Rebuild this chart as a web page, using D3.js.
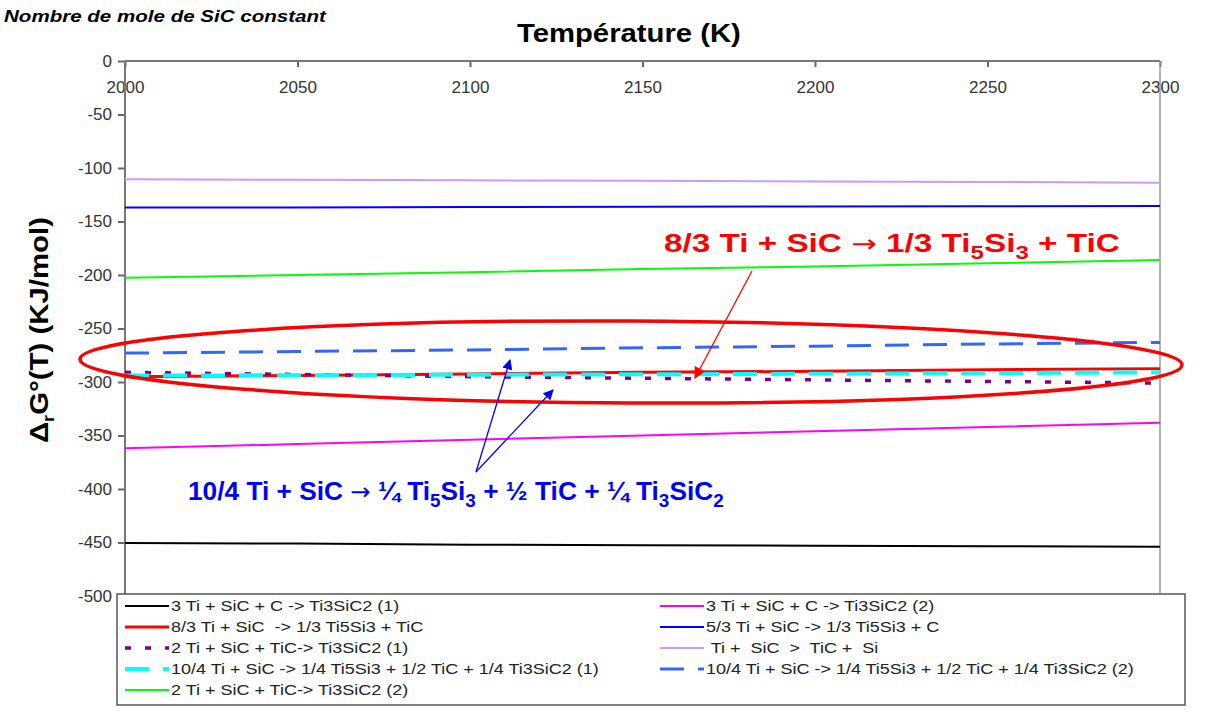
<!DOCTYPE html>
<html>
<head>
<meta charset="utf-8">
<script src="https://cdn.jsdelivr.net/npm/d3@7"></script>
<style>
  body { margin: 0; background: #fff; }
  text { font-family: "Liberation Sans", Arial, sans-serif; }
</style>
</head>
<body>
<div id="chart"></div>
<script>
// temperatures (K)
const temps = [2000, 2050, 2100, 2150, 2200, 2250, 2300];

// ΔrG°(T) in kJ/mol
const s_ti3sic2_1 = [-450.5, -451, -452, -452.5, -453, -453.5, -454];
const s_ti3sic2_2 = [-362, -358, -354, -350, -346, -342, -338];
const s_ti5si3_tic = [-295, -294, -292.5, -291, -290, -288.5, -287.5];
const s_ti5si3_c = [-137, -136.8, -136.5, -136.2, -136, -135.8, -135.5];
const s_tic_1 = [-291, -293, -295, -296.5, -298, -299.5, -301];
const s_tic_si = [-110.5, -111, -111.5, -112, -112.5, -113, -113.7];
const s_mix_1 = [-294, -293.7, -293.2, -292.8, -292.3, -291.7, -291];
const s_mix_2 = [-273, -271.5, -270, -268, -266.5, -264.5, -263];
const s_tic_2 = [-202.5, -200, -197.5, -194.5, -192, -189, -186];

const xTicks = [2000, 2050, 2100, 2150, 2200, 2250, 2300];
const yTicks = [0, -50, -100, -150, -200, -250, -300, -350, -400, -450, -500];

const series = [
  {name: "3 Ti + SiC + C -> Ti3SiC2 (1)", vals: s_ti3sic2_1, col: "#000000", w: 2, dash: null, leg: [0, 0]},
  {name: "3 Ti + SiC + C -> Ti3SiC2 (2)", vals: s_ti3sic2_2, col: "#ff00ff", w: 2, dash: null, leg: [1, 0]},
  {name: "8/3 Ti + SiC  -> 1/3 Ti5Si3 + TiC", vals: s_ti5si3_tic, col: "#ff0000", w: 3, dash: null, leg: [0, 1]},
  {name: "5/3 Ti + SiC -> 1/3 Ti5Si3 + C", vals: s_ti5si3_c, col: "#0000ff", w: 2, dash: null, leg: [1, 1]},
  {name: "2 Ti + SiC + TiC-> Ti3SiC2 (1)", vals: s_tic_1, col: "#800080", w: 3.5, dash: "6,14", leg: [0, 2]},
  {name: " Ti +  SiC  >  TiC +  Si", vals: s_tic_si, col: "#cc99ff", w: 2, dash: null, leg: [1, 2]},
  {name: "10/4 Ti + SiC -> 1/4 Ti5Si3 + 1/2 TiC + 1/4 Ti3SiC2 (1)", vals: s_mix_1, col: "#00ffff", w: 4, dash: "24,14", leg: [0, 3]},
  {name: "10/4 Ti + SiC -> 1/4 Ti5Si3 + 1/2 TiC + 1/4 Ti3SiC2 (2)", vals: s_mix_2, col: "#3366ff", w: 3, dash: "24,14", leg: [1, 3]},
  {name: "2 Ti + SiC + TiC-> Ti3SiC2 (2)", vals: s_tic_2, col: "#00ff00", w: 2, dash: null, leg: [0, 4]}
];

const width = 1208, height = 716;
const x = d3.scaleLinear().domain([2000, 2300]).range([125, 1160]);
const y = d3.scaleLinear().domain([-500, 0]).range([596, 61]);

const svg = d3.select("#chart").append("svg")
  .attr("width", width).attr("height", height);

// stretch a text horizontally so it fills a given width
const fitText = (t, x0, y0, w, anchor, rot) => {
  const bw = t.node().getBBox().width;
  const k = w / bw;
  const off = anchor === "middle" ? -w / 2 : 0;
  t.attr("transform", `translate(${x0},${y0}) rotate(${rot || 0}) translate(${off},0) scale(${k},1)`);
};

// title bits
const t1 = svg.append("text").attr("font-size", 16).attr("font-weight", "bold").attr("font-style", "italic")
  .text("Nombre de mole de SiC constant");
fitText(t1, 4, 22, 323);

const t2 = svg.append("text").attr("font-size", 26).attr("font-weight", "bold")
  .text("Température (K)");
fitText(t2, 629, 42, 224, "middle");

const yt = svg.append("text").attr("font-size", 26).attr("font-weight", "bold");
yt.append("tspan").text("Δ");
yt.append("tspan").attr("font-size", 16).attr("dy", 6).text("r");
yt.append("tspan").attr("dy", -6).text("G°(T) (KJ/mol)");
fitText(yt, 48, 330, 226, "middle", -90);

// axes
const fmt = d => String(d);
const xAxis = d3.axisBottom(x).tickValues(xTicks).tickSize(6).tickPadding(14).tickFormat(fmt);
const gx = svg.append("g").attr("transform", "translate(0,61)").call(xAxis);
gx.select(".domain").remove();
gx.selectAll(".tick line").attr("stroke", "#666").attr("stroke-width", 2);
gx.selectAll(".tick text").attr("font-size", 17).attr("fill", "#333")
  .attr("font-family", "Liberation Sans, Arial, sans-serif");

const yAxis = d3.axisLeft(y).tickValues(yTicks).tickSize(7).tickPadding(6).tickFormat(fmt);
const gy = svg.append("g").attr("transform", "translate(125,0)").call(yAxis);
gy.select(".domain").remove();
gy.selectAll(".tick line").attr("stroke", "#666").attr("stroke-width", 2);
gy.selectAll(".tick text").attr("font-size", 17).attr("fill", "#333")
  .attr("font-family", "Liberation Sans, Arial, sans-serif");

// frame lines
svg.append("line").attr("x1", x(2000)).attr("x2", x(2300)).attr("y1", y(0)).attr("y2", y(0))
  .attr("stroke", "#777").attr("stroke-width", 2);
svg.append("line").attr("x1", x(2000)).attr("x2", x(2000)).attr("y1", y(0)).attr("y2", y(-500))
  .attr("stroke", "#777").attr("stroke-width", 2);
svg.append("line").attr("x1", x(2300)).attr("x2", x(2300)).attr("y1", y(0)).attr("y2", y(-500))
  .attr("stroke", "#999").attr("stroke-width", 1.5);

// series
const line = d3.line().x((d, i) => x(temps[i])).y(d => y(d));
const g_lines = svg.append("g");
series.forEach(s => {
  g_lines.append("path").attr("d", line(s.vals))
    .attr("fill", "none").attr("stroke", s.col).attr("stroke-width", s.w)
    .attr("stroke-dasharray", s.dash);
});

// annotations
const defs = svg.append("defs");
const mk = (id, col, size) => defs.append("marker").attr("id", id)
  .attr("viewBox", "0 0 10 10").attr("refX", 9).attr("refY", 5)
  .attr("markerWidth", size).attr("markerHeight", size).attr("orient", "auto")
  .append("path").attr("d", "M0,0L10,5L0,10Z").attr("fill", col);
mk("arr-red", "#ff0000", 9);
mk("arr-blue", "#0000ff", 8);

svg.append("ellipse").attr("cx", 631).attr("cy", 362).attr("rx", 551).attr("ry", 41)
  .attr("transform", "rotate(0.3,631,362)")
  .attr("fill", "none").attr("stroke", "#ff0000").attr("stroke-width", 3.5);

svg.append("line").attr("x1", 752).attr("y1", 271).attr("x2", 695).attr("y2", 378)
  .attr("stroke", "#ff0000").attr("stroke-width", 1.3).attr("marker-end", "url(#arr-red)");
svg.append("line").attr("x1", 476).attr("y1", 472).attr("x2", 510).attr("y2", 360)
  .attr("stroke", "#0000ff").attr("stroke-width", 1.3).attr("marker-end", "url(#arr-blue)");
svg.append("line").attr("x1", 476).attr("y1", 472).attr("x2", 553).attr("y2", 390)
  .attr("stroke", "#0000ff").attr("stroke-width", 1.3).attr("marker-end", "url(#arr-blue)");

// text with subscripts: parts = [[str, isSub], ...]
const sub = (t, parts, fs) => {
  let down = false;
  parts.forEach(p => {
    const ts = t.append("tspan").text(p[0]);
    if (p[1]) {
      ts.attr("font-size", fs * 0.72);
      if (!down) { ts.attr("dy", 7); down = true; }
    } else if (down) {
      ts.attr("dy", -7); down = false;
    }
  });
};
const arrowStyle = t => t.selectAll("tspan").filter((d, i) => i === 1)
  .attr("font-weight", "normal").attr("font-family", "DejaVu Sans").attr("font-size", 24);

const redT = svg.append("text").attr("font-size", 26).attr("font-weight", "bold").attr("fill", "#ff0000");
sub(redT, [["8/3 Ti + SiC "], ["→"], [" 1/3 Ti"], ["5", 1], ["Si"], ["3", 1], [" + TiC"]], 26);
arrowStyle(redT);
fitText(redT, 664, 252, 456);

const blueT = svg.append("text").attr("font-size", 26).attr("font-weight", "bold").attr("fill", "#0000ff");
sub(blueT, [["10/4 Ti + SiC "], ["→"], [" ¼ Ti"], ["5", 1], ["Si"], ["3", 1], [" + ½ TiC + ¼ Ti"], ["3", 1], ["SiC"], ["2", 1]], 26);
arrowStyle(blueT);
fitText(blueT, 188, 500, 536);

// legend
const leg = svg.append("g");
leg.append("rect").attr("x", 117).attr("y", 594).attr("width", 1068).attr("height", 111)
  .attr("fill", "#fff").attr("stroke", "#555").attr("stroke-width", 1.5);
const colX = [125, 660];
series.forEach(s => {
  const lx = colX[s.leg[0]], ly = 606 + s.leg[1] * 21;
  leg.append("line").attr("x1", lx).attr("x2", lx + 44).attr("y1", ly).attr("y2", ly)
    .attr("stroke", s.col).attr("stroke-width", s.w).attr("stroke-dasharray", s.dash);
  const lt = leg.append("text").attr("font-size", 15).attr("fill", "#222")
    .attr("xml:space", "preserve").style("white-space", "pre").text(s.name);
  lt.attr("transform", `translate(${lx + 46},${ly + 5}) scale(1.2,1)`);
});
</script>
</body>
</html>
